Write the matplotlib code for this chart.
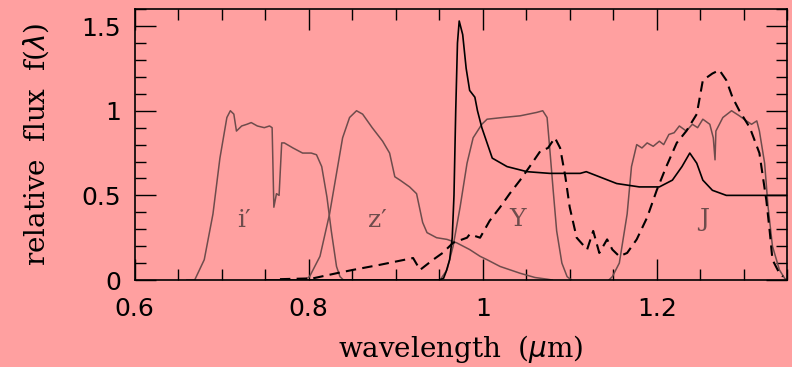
import matplotlib.pyplot as plt
from matplotlib.ticker import MultipleLocator

# filter curves (wavelength in micron, relative transmission)
i_wave = [0.660, 0.669, 0.680, 0.690, 0.698, 0.706, 0.710, 0.714, 0.717, 0.723, 0.729, 0.734,
          0.741, 0.749, 0.755, 0.758, 0.760, 0.763, 0.766, 0.769, 0.772, 0.782, 0.793, 0.803,
          0.809, 0.815, 0.821, 0.826, 0.832, 0.836, 0.840]
i_flux = [0.0, 0.0, 0.12, 0.39, 0.72, 0.96, 1.0, 0.98, 0.88, 0.91, 0.92, 0.93,
          0.91, 0.90, 0.91, 0.90, 0.43, 0.51, 0.50, 0.81, 0.81, 0.78, 0.75, 0.75,
          0.74, 0.67, 0.49, 0.29, 0.08, 0.02, 0.0]

z_wave = [0.795, 0.801, 0.813, 0.824, 0.832, 0.839, 0.847, 0.855, 0.862, 0.873, 0.885, 0.893,
          0.899, 0.905, 0.916, 0.924, 0.931, 0.936, 0.947, 0.959, 0.970, 0.985, 0.997, 1.005,
          1.020, 1.043, 1.060, 1.074, 1.080]
z_flux = [0.0, 0.02, 0.14, 0.39, 0.63, 0.84, 0.96, 1.0, 0.98, 0.90, 0.82, 0.75,
          0.61, 0.59, 0.55, 0.51, 0.34, 0.28, 0.25, 0.24, 0.22, 0.18, 0.14, 0.12,
          0.08, 0.04, 0.015, 0.005, 0.0]

y_wave = [0.945, 0.951, 0.959, 0.966, 0.974, 0.982, 0.989, 0.999, 1.005, 1.023, 1.043, 1.062,
          1.069, 1.074, 1.077, 1.081, 1.085, 1.091, 1.097, 1.102]
y_flux = [0.0, 0.0, 0.06, 0.20, 0.43, 0.69, 0.84, 0.92, 0.95, 0.96, 0.97, 0.99,
          1.0, 0.96, 0.78, 0.53, 0.29, 0.10, 0.02, 0.0]

j_wave = [1.145, 1.149, 1.157, 1.166, 1.171, 1.177, 1.183, 1.189, 1.196, 1.203, 1.208, 1.214,
          1.220, 1.226, 1.234, 1.241, 1.247, 1.253, 1.261, 1.265, 1.267, 1.268, 1.276, 1.286,
          1.295, 1.303, 1.309, 1.315, 1.318, 1.324, 1.328, 1.333, 1.341, 1.347, 1.350]
j_flux = [0.0, 0.02, 0.10, 0.39, 0.67, 0.80, 0.78, 0.81, 0.79, 0.82, 0.80, 0.86,
          0.87, 0.91, 0.88, 0.92, 0.90, 0.95, 0.92, 0.84, 0.71, 0.88, 0.96, 1.0,
          0.97, 0.94, 0.92, 0.94, 0.88, 0.69, 0.43, 0.20, 0.06, 0.01, 0.0]

# solid spectrum
s_wave = [0.750, 0.800, 0.900, 0.950, 0.955, 0.958, 0.962, 0.965, 0.967, 0.969, 0.971, 0.973,
          0.977, 0.981, 0.985, 0.991, 0.994, 0.999, 1.005, 1.011, 1.028, 1.051, 1.077, 1.103,
          1.112, 1.119, 1.134, 1.154, 1.180, 1.203, 1.218, 1.229, 1.238, 1.246, 1.253, 1.264,
          1.280, 1.300, 1.350]
s_flux = [0.0, 0.0, 0.0, 0.0, 0.01, 0.05, 0.12, 0.25, 0.5, 1.0, 1.4, 1.53,
          1.45, 1.25, 1.12, 1.08, 1.0, 0.90, 0.81, 0.72, 0.67, 0.64, 0.63, 0.63,
          0.63, 0.64, 0.61, 0.57, 0.55, 0.55, 0.59, 0.67, 0.75, 0.69, 0.59, 0.53,
          0.50, 0.50, 0.50]

# dashed spectrum
d_wave = [0.767, 0.805, 0.832, 0.851, 0.882, 0.920, 0.928, 0.943, 0.954, 0.966, 0.982, 0.985,
          0.997, 1.008, 1.020, 1.031, 1.043, 1.054, 1.066, 1.075, 1.083, 1.089, 1.095, 1.100,
          1.108, 1.120, 1.127, 1.134, 1.143, 1.149, 1.157, 1.166, 1.177, 1.189, 1.200, 1.211,
          1.223, 1.234, 1.246, 1.253, 1.264, 1.272, 1.280, 1.287, 1.295, 1.307, 1.318, 1.326,
          1.330, 1.333, 1.341, 1.345]
d_flux = [0.005, 0.01, 0.04, 0.06, 0.09, 0.13, 0.06, 0.12, 0.16, 0.22, 0.25, 0.27,
          0.25, 0.35, 0.43, 0.51, 0.59, 0.67, 0.76, 0.78, 0.84, 0.78, 0.61, 0.43,
          0.25, 0.18, 0.29, 0.16, 0.24, 0.18, 0.14, 0.16, 0.24, 0.37, 0.53, 0.67,
          0.81, 0.88, 0.98, 1.18, 1.22, 1.24, 1.18, 1.08, 1.00, 0.90, 0.75, 0.47,
          0.28, 0.12, 0.04, 0.02]

band_names = ["i\u2032", "z\u2032", "Y", "J"]
band_label_x = [0.726, 0.879, 1.040, 1.255]
band_label_y = [0.35, 0.35, 0.36, 0.36]

bg = '#ffa0a0'
fcol = '#6e4c4c'

fig = plt.figure(figsize=(7.92, 3.67), dpi=100, facecolor=bg)
ax = fig.add_axes([0.170, 0.237, 0.824, 0.738], facecolor=bg)

for w, f in [(i_wave, i_flux), (z_wave, z_flux), (y_wave, y_flux), (j_wave, j_flux)]:
    ax.plot(w, f, color=fcol, lw=1.1)
ax.plot(s_wave, s_flux, color='black', lw=1.2)
ax.plot(d_wave, d_flux, color='black', lw=1.5, linestyle=(0, (5, 3)))

for name, x, y in zip(band_names, band_label_x, band_label_y):
    ax.text(x, y, name, color=fcol, fontsize=18, family='DejaVu Serif', ha='center', va='center')

ax.set_xlim(0.6, 1.35)
ax.set_ylim(0, 1.6)
ax.xaxis.set_minor_locator(MultipleLocator(0.05))
ax.yaxis.set_minor_locator(MultipleLocator(0.1))
ax.set_xticks([0.6, 0.8, 1.0, 1.2])
ax.set_xticklabels(['0.6', '0.8', '1', '1.2'])
ax.set_yticks([0, 0.5, 1, 1.5])
ax.set_yticklabels(['0', '0.5', '1', '1.5'])
ax.tick_params(which='both', direction='in', top=True, right=True, labelsize=18, colors='black')
ax.tick_params(which='major', length=15, width=1.0)
ax.tick_params(which='minor', length=8, width=1.0)
ax.tick_params(axis='x', which='major', pad=12)
ax.tick_params(axis='y', which='major', pad=10)
for s in ax.spines.values():
    s.set_linewidth(1.2)

ax.set_xlabel('wavelength  ($\\mu$m)', fontsize=20, family='DejaVu Serif', labelpad=9)
ax.set_ylabel('relative  flux  f($\\lambda$)', fontsize=20, family='DejaVu Serif', labelpad=22)

fig.savefig('out.png', dpi=100, facecolor=bg)
